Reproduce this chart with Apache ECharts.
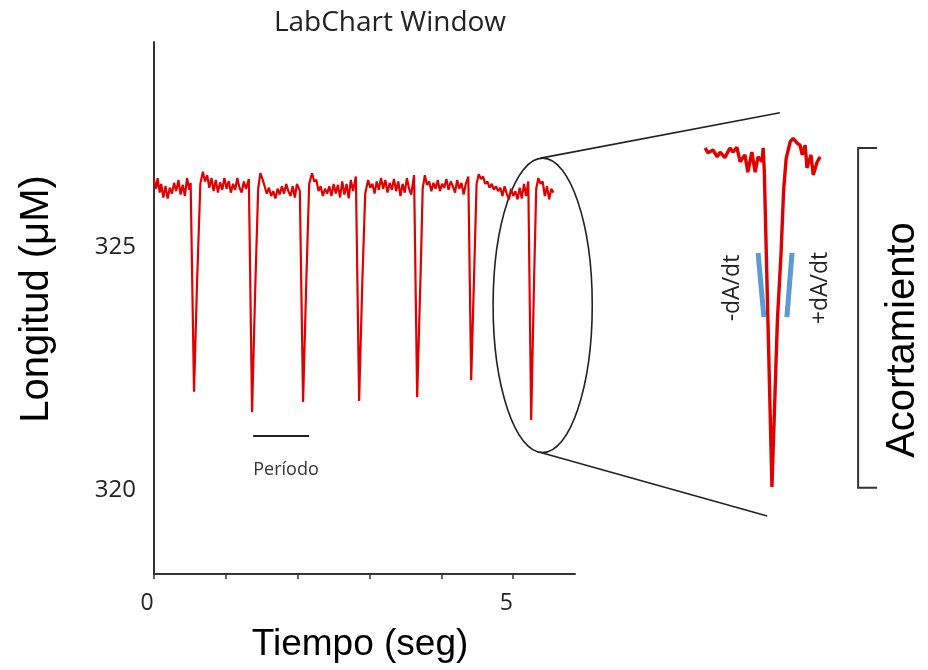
<!DOCTYPE html>
<html><head><meta charset="utf-8">
<script src="https://cdn.jsdelivr.net/npm/echarts@6/dist/echarts.min.js"></script>
<style>html,body{margin:0;padding:0;background:#fff}#c{width:928px;height:670px}</style>
</head><body><div id="c"></div>
<script>
// ---- data (time in s, length in µM) ----
const mainTime = [0.00,0.03,0.05,0.08,0.10,0.13,0.16,0.19,0.22,0.25,0.28,0.31,0.34,0.37,0.40,0.43,0.46,0.49,0.51,
0.557,0.600,0.645,0.680,0.710,0.740,0.770,0.800,0.830,0.860,0.890,0.920,0.950,0.980,1.010,1.040,1.070,1.100,1.130,1.160,1.190,1.220,1.250,1.280,1.320,
1.365,1.410,1.450,1.480,1.510,1.540,1.570,1.600,1.630,1.660,1.690,1.720,1.750,1.780,1.810,1.840,1.870,1.900,1.930,1.960,1.990,2.030,
2.075,2.120,2.160,2.200,2.230,2.260,2.290,2.320,2.350,2.380,2.410,2.440,2.470,2.500,2.530,2.560,2.590,2.620,2.650,2.680,2.710,2.740,2.770,2.810,
2.855,2.900,2.940,2.980,3.010,3.040,3.070,3.100,3.130,3.160,3.190,3.220,3.250,3.280,3.310,3.340,3.370,3.400,3.430,3.460,3.490,3.520,3.550,3.580,3.620,
3.663,3.710,3.740,3.770,3.800,3.830,3.860,3.890,3.920,3.950,3.980,4.010,4.040,4.070,4.100,4.130,4.160,4.190,4.220,4.250,4.280,4.310,4.340,4.375,
4.415,4.455,4.490,4.520,4.550,4.580,4.610,4.640,4.670,4.700,4.730,4.760,4.790,4.820,4.850,4.880,4.910,4.940,4.970,5.000,5.030,5.060,5.090,5.120,5.150,5.180,5.210,
5.250,5.290,5.320,5.350,5.380,5.410,5.440,5.470,5.500,5.530,5.560];
const mainLen = [326.38,326.20,326.42,326.12,326.30,326.02,326.25,326.00,326.22,326.10,326.32,326.15,326.38,326.08,326.28,326.05,326.42,326.18,326.32,
322.02,324.30,326.30,326.55,326.35,326.48,326.22,326.42,326.15,326.38,326.12,326.33,326.18,326.42,326.20,326.36,326.12,326.30,326.18,326.42,326.22,326.12,326.35,326.20,326.40,
321.60,324.20,326.20,326.52,326.40,326.25,326.10,326.22,326.05,326.15,326.00,326.20,326.08,326.25,326.10,326.30,326.15,326.05,326.25,326.02,326.30,326.15,
321.81,324.30,326.30,326.52,326.35,326.38,326.15,326.25,326.05,326.20,326.10,326.25,326.05,326.30,326.10,326.28,326.02,326.35,326.08,326.30,326.00,326.38,326.15,326.45,
321.83,324.30,326.10,326.38,326.22,326.30,326.10,326.35,326.18,326.42,326.20,326.38,326.12,326.32,326.18,326.40,326.15,326.35,326.05,326.30,326.12,326.42,326.20,326.08,326.48,
321.91,324.40,326.20,326.48,326.28,326.35,326.15,326.32,326.20,326.38,326.15,326.30,326.22,326.40,326.18,326.35,326.25,326.12,326.38,326.20,326.32,326.08,326.30,326.45,
322.26,324.40,326.30,326.50,326.40,326.45,326.30,326.35,326.22,326.30,326.18,326.25,326.15,326.22,326.05,326.25,326.10,325.98,326.20,326.05,326.15,325.98,326.22,326.00,326.30,326.05,326.35,
321.44,324.30,326.20,326.42,326.30,326.35,326.05,326.25,325.98,326.20,326.12];

// magnified last contraction (inset)
const insetTime = [5.064,5.072,5.086,5.097,5.105,5.118,5.132,5.140,5.151,5.160,5.173,5.181,5.192,5.201,5.209,5.220,5.223,5.226,5.236,5.247,5.262,5.272,5.279,5.286,5.297,5.305,5.316,5.324,5.330,5.338,5.343,5.354,5.360,5.371,5.379];
const insetLen  = [326.34,326.27,326.31,326.21,326.28,326.20,326.34,326.28,326.35,326.14,326.24,325.99,326.28,325.99,326.21,326.14,326.34,326.02,323.85,321.43,323.85,324.82,325.73,326.19,326.43,326.48,326.41,326.38,326.24,326.38,326.05,326.24,325.95,326.14,326.21];

// slope markers (-dA/dt, +dA/dt)
const slopeDownTime = [5.209, 5.225];
const slopeDownLen  = [324.82, 323.89];
const slopeUpTime   = [5.302, 5.288];
const slopeUpLen    = [324.82, 323.89];

// period marker
const periodTime = [1.38, 2.16];
const periodLen  = [321.11, 321.11];

// ticks
const xTickValues = [0,1,2,3,4,5];
const xLabelValues = [0,5];
const yLabelValues = [320,325];

// annotation anchors (data space)
const ellipseCenter = [5.41, 323.8];
const ellipseHalf = [0.69, 3.03];
const connectTop = [5.269, 326.85];
const connectBottom = [5.234, 321.01];
const bracketTime = 5.483;
const bracketLen = [326.34, 321.42];

const zip = (a, b) => a.slice(0, Math.min(a.length, b.length)).map((v, i) => [v, b[i]]);

const chart = echarts.init(document.getElementById('c'), null, {renderer: 'canvas'});
const red = '#e00000';
const blue = '#5b9bd5';
const sans = 'Liberation Sans, Arial, sans-serif';
const open = 'Open Sans, Noto Sans, sans-serif';

chart.setOption({
  animation: false,
  backgroundColor: '#ffffff',
  grid: [
    {left: 154, top: 42, width: 421, height: 532},
    {left: 700, top: 130, width: 130, height: 366}
  ],
  xAxis: [
    {type: 'value', gridIndex: 0, min: 0, max: 5.86,
     axisLine: {show: true, onZero: false, lineStyle: {color: '#333', width: 2}},
     axisTick: {show: true, customValues: xTickValues, length: 5, lineStyle: {color: '#333', width: 1.5}},
     axisLabel: {customValues: xLabelValues, fontSize: 23, color: '#222', margin: 18, fontFamily: open, padding: [0, 14, 0, 0]},
     splitLine: {show: false}},
    {type: 'value', gridIndex: 1, min: 5.05, max: 5.406, show: false}
  ],
  yAxis: [
    {type: 'value', gridIndex: 0, min: 318.27, max: 329.22,
     axisLine: {show: true, onZero: false, lineStyle: {color: '#333', width: 2}},
     axisTick: {show: false},
     axisLabel: {customValues: yLabelValues, fontSize: 24, color: '#222', margin: 18, fontFamily: open},
     splitLine: {show: false}},
    {type: 'value', gridIndex: 1, min: 321.3, max: 326.6, show: false}
  ],
  series: [
    {type: 'line', xAxisIndex: 0, yAxisIndex: 0, data: zip(mainTime, mainLen), showSymbol: false,
     lineStyle: {color: red, width: 2.2}, silent: true},
    {type: 'line', xAxisIndex: 0, yAxisIndex: 0, data: zip(periodTime, periodLen), showSymbol: false,
     lineStyle: {color: '#222', width: 2}, silent: true},
    {type: 'line', xAxisIndex: 1, yAxisIndex: 1, data: zip(insetTime, insetLen), showSymbol: false,
     lineStyle: {color: red, width: 3.4}, silent: true},
    {type: 'line', xAxisIndex: 1, yAxisIndex: 1, data: zip(slopeDownTime, slopeDownLen), showSymbol: false,
     lineStyle: {color: blue, width: 5}, silent: true},
    {type: 'line', xAxisIndex: 1, yAxisIndex: 1, data: zip(slopeUpTime, slopeUpLen), showSymbol: false,
     lineStyle: {color: blue, width: 5}, silent: true}
  ]
});

const px0 = p => chart.convertToPixel({gridIndex: 0}, p);
const px1 = p => chart.convertToPixel({gridIndex: 1}, p);
const c = px0(ellipseCenter);
const rx = px0([ellipseCenter[0] + ellipseHalf[0], ellipseCenter[1]])[0] - c[0];
const ry = c[1] - px0([ellipseCenter[0], ellipseCenter[1] + ellipseHalf[1]])[1];
const ct = px1(connectTop), cb = px1(connectBottom);
const bt = px1([bracketTime, bracketLen[0]]), bb = px1([bracketTime, bracketLen[1]]);
const stroke = {stroke: '#222', lineWidth: 1.6, fill: null};

chart.setOption({
  graphic: [
    {type: 'ellipse', shape: {cx: c[0], cy: c[1], rx: rx, ry: ry}, style: {stroke: '#222', lineWidth: 1.6, fill: null}, silent: true},
    {type: 'line', shape: {x1: c[0] - 2, y1: c[1] - ry, x2: ct[0], y2: ct[1]}, style: stroke, silent: true},
    {type: 'line', shape: {x1: c[0] - 2, y1: c[1] + ry, x2: cb[0], y2: cb[1]}, style: stroke, silent: true},
    {type: 'polyline', shape: {points: [[bt[0] + 19, bt[1]], [bt[0], bt[1]], [bb[0], bb[1]], [bb[0] + 19, bb[1]]]},
     style: {stroke: '#333', lineWidth: 2, fill: null}, silent: true},
    {type: 'text', x: 390, y: 23, silent: true,
     style: {text: 'LabChart Window', fontSize: 28, fontFamily: open, fill: '#222', align: 'center', verticalAlign: 'middle'}},
    {type: 'text', x: 37, y: 299, rotation: Math.PI / 2, silent: true,
     style: {text: 'Longitud (μM)', fontSize: 40, fontFamily: sans, fill: '#000', align: 'center', verticalAlign: 'middle'}},
    {type: 'text', x: 360, y: 645, silent: true,
     style: {text: 'Tiempo (seg)', fontSize: 37, fontFamily: sans, fill: '#000', align: 'center', verticalAlign: 'middle'}},
    {type: 'text', x: 286, y: 470, silent: true,
     style: {text: 'Período', fontSize: 18, fontFamily: open, fill: '#333', align: 'center', verticalAlign: 'middle'}},
    {type: 'text', x: 732, y: 288, rotation: Math.PI / 2, silent: true,
     style: {text: '-dA/dt', fontSize: 23, fontFamily: open, fill: '#222', align: 'center', verticalAlign: 'middle'}},
    {type: 'text', x: 820, y: 288, rotation: Math.PI / 2, silent: true,
     style: {text: '+dA/dt', fontSize: 23, fontFamily: open, fill: '#222', align: 'center', verticalAlign: 'middle'}},
    {type: 'text', x: 903, y: 340, rotation: Math.PI / 2, silent: true,
     style: {text: 'Acortamiento', fontSize: 40, fontFamily: sans, fill: '#000', align: 'center', verticalAlign: 'middle'}}
  ]
});
</script>
</body></html>
